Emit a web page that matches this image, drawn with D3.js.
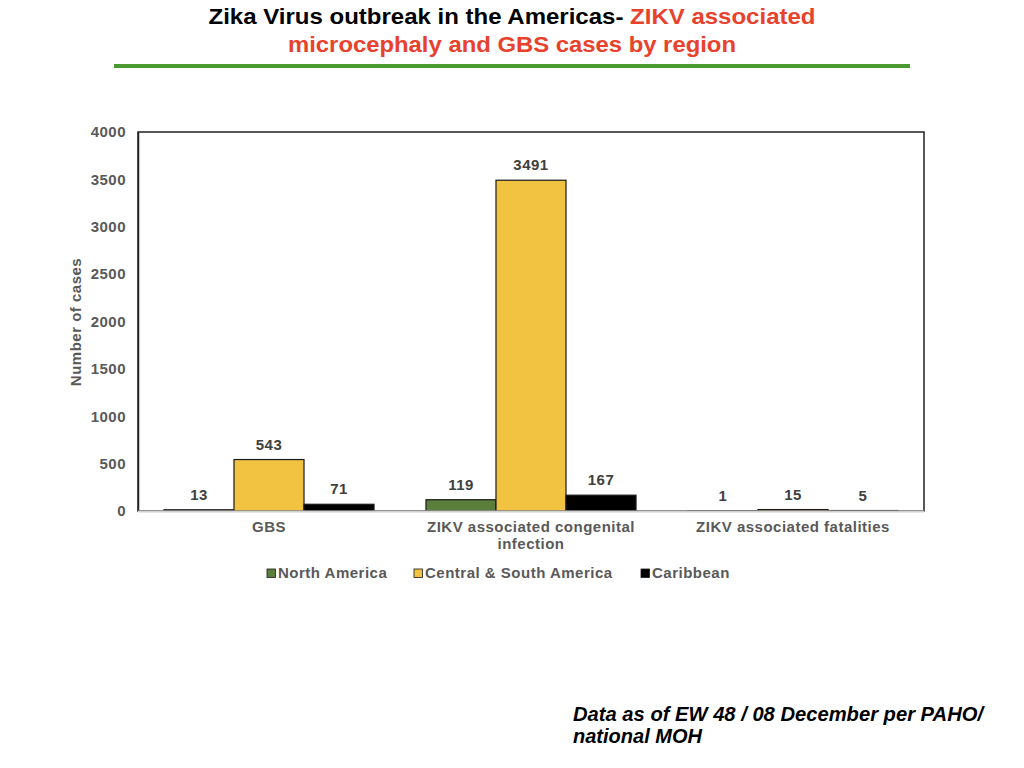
<!DOCTYPE html>
<html><head><meta charset="utf-8">
<script src="https://cdn.jsdelivr.net/npm/d3@7"></script>
<style>body{margin:0;background:#fff;} svg{display:block;}</style>
</head><body>
<script>
const categories = ["GBS", "ZIKV associated congenital infection", "ZIKV associated fatalities"];
const categoryLines = [["GBS"], ["ZIKV associated congenital", "infection"], ["ZIKV associated fatalities"]];
const seriesNames = ["North America", "Central & South America", "Caribbean"];
const northAmerica = [13, 119, 1];
const centralSouthAmerica = [543, 3491, 15];
const caribbean = [71, 167, 5];
const yTicks = [0, 500, 1000, 1500, 2000, 2500, 3000, 3500, 4000];
const colors = ["#5b7f3b", "#f2c341", "#000000"];
const seriesValues = [northAmerica, centralSouthAmerica, caribbean];

(function () {
const W = 1024, H = 768;
const svg = d3.select("body").append("svg").attr("width", W).attr("height", H);
const font = "'Liberation Sans', Arial, Helvetica, sans-serif";
const LS = 0.5;

// Title
const t1 = svg.append("text").attr("x", 512).attr("y", 24).attr("text-anchor", "middle")
  .attr("font-family", font).attr("font-weight", "bold").attr("font-size", 22);
t1.append("tspan").attr("fill", "#000").text("Zika Virus outbreak in the Americas- ");
t1.append("tspan").attr("fill", "#e8412c").text("ZIKV associated");
t1.attr("textLength", 607).attr("lengthAdjust", "spacingAndGlyphs");
svg.append("text").attr("x", 512).attr("y", 52).attr("text-anchor", "middle")
  .attr("font-family", font).attr("font-weight", "bold").attr("font-size", 22)
  .attr("fill", "#e8412c").attr("textLength", 448).attr("lengthAdjust", "spacingAndGlyphs")
  .text("microcephaly and GBS cases by region");
svg.append("rect").attr("x", 114).attr("y", 64).attr("width", 796).attr("height", 4).attr("fill", "#4b9a2f");

// Plot
const pL = 138, pR = 924, pT = 132, pB = 511;
const x0 = d3.scaleBand().domain(categories).range([pL, pR]).paddingInner(0).paddingOuter(0);
const x1 = d3.scaleBand().domain(seriesNames).range([0, x0.bandwidth()]).paddingOuter(0.371).paddingInner(0);
const y = d3.scaleLinear().domain([0, 4000]).range([pB, pT]);

// frame
svg.append("rect").attr("x", pL).attr("y", pT).attr("width", pR - pL).attr("height", pB - pT)
  .attr("fill", "none").attr("stroke", "#222").attr("stroke-width", 1.5);

// y axis
const yAxis = svg.append("g").attr("transform", `translate(${pL},0)`)
  .call(d3.axisLeft(y).tickValues(yTicks).tickFormat(d3.format("d")).tickSize(0).tickPadding(12));
yAxis.select(".domain").attr("stroke", "#222").attr("stroke-width", 1.5);
yAxis.selectAll("text").attr("font-family", font).attr("font-weight", "bold").attr("font-size", 15)
  .attr("letter-spacing", LS).attr("fill", "#595959");

// bars
const data = [];
categories.forEach((c, i) => seriesNames.forEach((s, j) => data.push({c, s, v: seriesValues[j][i], color: colors[j]})));
svg.append("g").selectAll("rect").data(data).join("rect")
  .attr("x", d => x0(d.c) + x1(d.s)).attr("width", x1.bandwidth())
  .attr("y", d => y(d.v)).attr("height", d => y(0) - y(d.v))
  .attr("fill", d => d.color).attr("stroke", "#1a1a1a").attr("stroke-width", 1.2);

// x axis line (grey)
svg.append("line").attr("x1", pL).attr("x2", pR).attr("y1", pB + 0.5).attr("y2", pB + 0.5)
  .attr("stroke", "#d0d0d0").attr("stroke-width", 2);

// data labels
svg.append("g").selectAll("text").data(data).join("text")
  .attr("x", d => x0(d.c) + x1(d.s) + x1.bandwidth() / 2).attr("y", d => y(d.v) - 10)
  .attr("text-anchor", "middle").attr("font-family", font).attr("font-weight", "bold")
  .attr("font-size", 15).attr("letter-spacing", LS).attr("fill", "#404040").text(d => d.v);

// category labels
categories.forEach((c, i) => {
  const cx = x0(c) + x0.bandwidth() / 2;
  const tx = svg.append("text").attr("x", cx).attr("y", 532)
    .attr("text-anchor", "middle").attr("font-family", font).attr("font-weight", "bold")
    .attr("font-size", 15).attr("letter-spacing", LS).attr("fill", "#595959");
  categoryLines[i].forEach((ln, k) => tx.append("tspan").attr("x", cx).attr("dy", k ? 16.5 : 0).text(ln));
});

// y label
svg.append("text").attr("transform", "translate(81,322) rotate(-90)").attr("text-anchor", "middle")
  .attr("font-family", font).attr("font-weight", "bold").attr("font-size", 15).attr("letter-spacing", LS)
  .attr("fill", "#595959").text("Number of cases");

// legend
const legendX = [267, 414, 641];
const lg = svg.append("g").selectAll("g").data(seriesNames).join("g")
  .attr("transform", (d, i) => `translate(${legendX[i]},569)`);
lg.append("rect").attr("width", 8.5).attr("height", 8.5).attr("fill", (d, i) => colors[i])
  .attr("stroke", "#1a1a1a").attr("stroke-width", 0.8);
lg.append("text").attr("x", 11).attr("y", 9).attr("font-family", font).attr("font-weight", "bold")
  .attr("font-size", 15).attr("letter-spacing", LS).attr("fill", "#595959").text(d => d);

// footer
const ft = svg.append("text").attr("font-family", font).attr("font-weight", "bold").attr("font-style", "italic")
  .attr("font-size", 20).attr("fill", "#000");
ft.append("tspan").attr("x", 573).attr("y", 721).attr("textLength", 410).attr("lengthAdjust", "spacingAndGlyphs")
  .text("Data as of EW 48 / 08 December per PAHO/");
ft.append("tspan").attr("x", 573).attr("y", 743).attr("textLength", 129).attr("lengthAdjust", "spacingAndGlyphs")
  .text("national MOH");
})();
</script>
</body></html>
